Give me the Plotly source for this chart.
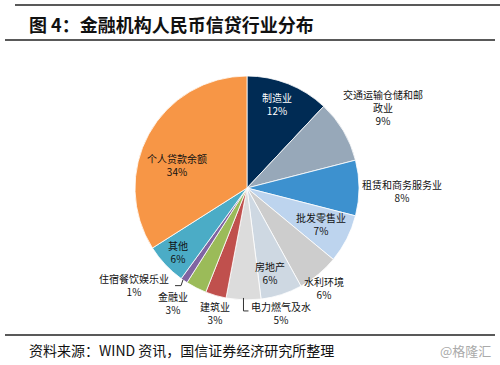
import math
import plotly.graph_objects as go

# ---- data ----
categories = ["制造业", "交通运输仓储和邮政业", "租赁和商务服务业", "批发零售业", "水利环境",
              "房地产", "电力燃气及水", "建筑业", "金融业", "住宿餐饮娱乐业", "其他", "个人贷款余额"]
label_text = ["制造业", "交通运输仓储和邮<br>政业", "租赁和商务服务业", "批发零售业", "水利环境",
              "房地产", "电力燃气及水", "建筑业", "金融业", "住宿餐饮娱乐业", "其他", "个人贷款余额"]
shares = [12, 9, 8, 7, 6, 6, 5, 3, 3, 1, 6, 34]

# ---- style ----
colors = ["#002B54", "#97A8B9", "#3D91CF", "#BDD4EE", "#CDCDCD", "#CED8E2",
          "#DCDCDC", "#C0504D", "#9BBB59", "#8064A2", "#4BACC6", "#F79646"]
# label placement: (radius factor, angle tweak in degrees)
label_place = [(0.80, -2), (1.41, 0), (1.38, 1), (0.74, -1), (1.13, 2), (0.79, 3),
               (1.16, -17), (1.15, -2), (1.22, 6), (1.33, 15), (0.84, 0), (0.66, -11)]
label_color = ["white"] + ["#111111"] * 11
leader = {6: "down", 9: "downleft"}

W, H = 500, 365
CX, CY, R = 247, 188, 112
CJK = "Noto Sans CJK SC"

fig = go.Figure(go.Pie(
    labels=categories, values=shares, sort=False, direction="clockwise", rotation=0,
    marker=dict(colors=colors, line=dict(color="white", width=0.8)),
    textinfo="none", hoverinfo="label+percent", showlegend=False,
    domain=dict(x=[(CX - R) / W, (CX + R) / W], y=[1 - (CY + R) / H, 1 - (CY - R) / H]),
))

def px(x, y):
    return x / W, 1 - y / H

total = sum(shares)
cum = 0
annotations = []
shapes = []
for i, v in enumerate(shares):
    mid = (cum + v / 2) / total * 360
    cum += v
    rf, tw = label_place[i]
    a = math.radians(mid + tw)
    lx = CX + rf * R * math.sin(a)
    ly = CY - rf * R * math.cos(a)
    x, y = px(lx, ly)
    pct = round(v / total * 100)
    annotations.append(dict(
        x=x, y=y, xref="paper", yref="paper", showarrow=False,
        xanchor="center", yanchor="middle",
        text=f"{label_text[i]}<br>{pct}%", align="center",
        font=dict(family=CJK, size=10, color=label_color[i]),
    ))
    if i in leader:
        am = math.radians(mid)
        ex = CX + R * math.sin(am)
        ey = CY - R * math.cos(am)
        if leader[i] == "down":
            pts = [(ex, ey - 2), (ex, ey + 11), (ex + 5, ey + 11)]
        else:
            pts = [(ex - 1, ey - 1), (ex - 3, ey + 5), (ex - 9, ey + 5)]
        path = "M " + " L ".join(f"{px(a_, b_)[0]},{px(a_, b_)[1]}" for a_, b_ in pts)
        shapes.append(dict(type="path", path=path, xref="paper", yref="paper",
                           line=dict(color="#333333", width=1)))

# rules
for (x0, x1, yy) in [(15, 500, 5), (5, 495, 40), (5, 495, 335)]:
    a0, b0 = px(x0, yy)
    a1, _ = px(x1, yy)
    shapes.append(dict(type="line", xref="paper", yref="paper", x0=a0, x1=a1, y0=b0, y1=b0,
                       line=dict(color="#222222", width=1.5)))

annotations.append(dict(x=27 / W, y=1 - 24 / H, xref="paper", yref="paper", showarrow=False,
                        xanchor="left", yanchor="middle",
                        text="<b>图 4：金融机构人民币信贷行业分布</b>",
                        font=dict(family=CJK, size=18, color="#111111")))
annotations.append(dict(x=27 / W, y=1 - 350 / H, xref="paper", yref="paper", showarrow=False,
                        xanchor="left", yanchor="middle",
                        text="资料来源：WIND 资讯，国信证券经济研究所整理",
                        font=dict(family=CJK, size=14, color="#111111")))
annotations.append(dict(x=493 / W, y=1 - 350 / H, xref="paper", yref="paper", showarrow=False,
                        xanchor="right", yanchor="middle",
                        text="@格隆汇",
                        font=dict(family=CJK, size=13, color="#AAAAAA")))

fig.update_layout(width=W, height=H, margin=dict(l=0, r=0, t=0, b=0),
                  paper_bgcolor="white", plot_bgcolor="white",
                  annotations=annotations, shapes=shapes)
fig.write_html("out.html", config={"displayModeBar": False},
               post_script="document.body.style.margin='0';document.body.style.overflow='hidden';")
